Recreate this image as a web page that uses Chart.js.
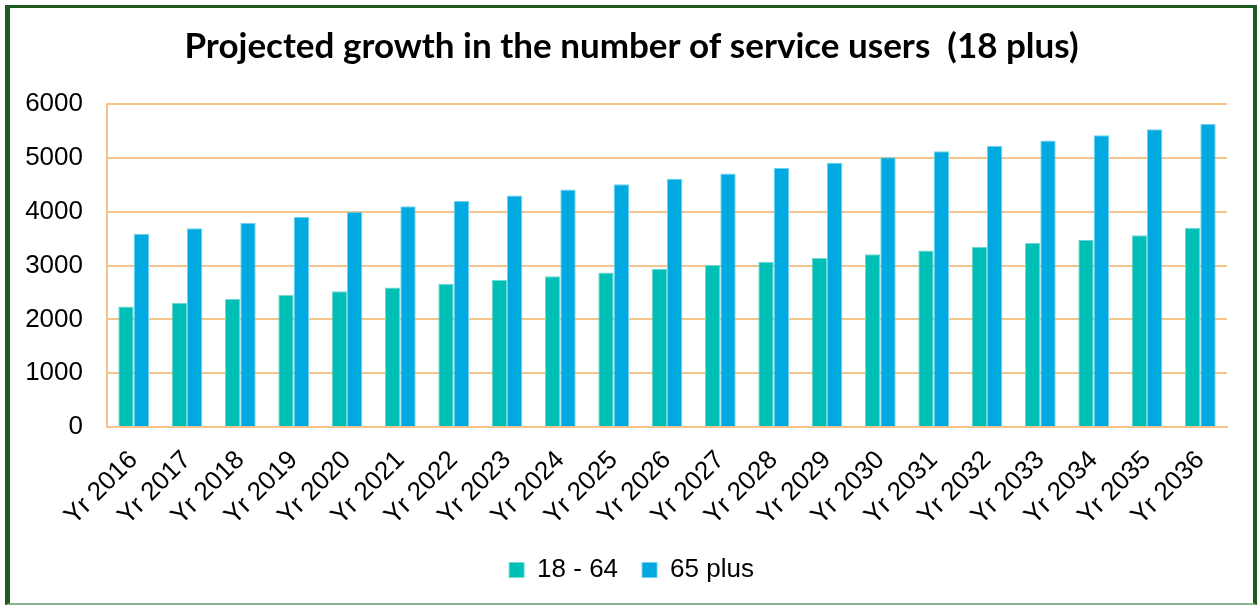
<!DOCTYPE html>
<html>
<head>
<meta charset="utf-8">
<script src="https://cdn.jsdelivr.net/npm/chart.js@4/dist/chart.umd.min.js"></script>
<style>
    html, body { margin: 0; padding: 0; background: #fff; }
    #frame {
        position: absolute;
        left: 5px;
        top: 5px;
        width: 1252px;
        height: 600px;
        box-sizing: border-box;
        border-left: 5px solid #1f5a1f;
        border-top: 3px solid #1f5a1f;
        border-right: 4px solid #1f5a1f;
        border-bottom: 2px solid #8fb38f;
    }
    #chart { display: block; }
</style>
</head>
<body>
<div id="frame"><canvas id="chart" width="1243" height="595"></canvas></div>
<script>
const years = [
    'Yr 2016', 'Yr 2017', 'Yr 2018', 'Yr 2019', 'Yr 2020', 'Yr 2021', 'Yr 2022',
    'Yr 2023', 'Yr 2024', 'Yr 2025', 'Yr 2026', 'Yr 2027', 'Yr 2028', 'Yr 2029',
    'Yr 2030', 'Yr 2031', 'Yr 2032', 'Yr 2033', 'Yr 2034', 'Yr 2035', 'Yr 2036',
];
const age18to64 = [
    2240, 2310, 2380, 2450, 2520, 2590, 2660, 2730, 2800, 2870, 2940,
    3010, 3070, 3140, 3210, 3280, 3350, 3420, 3480, 3560, 3700,
];
const age65plus = [
    3590, 3690, 3790, 3900, 4000, 4100, 4200, 4300, 4410, 4510, 4610,
    4710, 4810, 4910, 5010, 5120, 5220, 5320, 5420, 5530, 5630,
];
const yTicks = [0, 1000, 2000, 3000, 4000, 5000, 6000];

const teal = '#00bfb4';
const blue = '#00a9e0';
const orange = '#f4c48c';
const sans = "'Liberation Sans', Arial, sans-serif";

new Chart(document.getElementById('chart'), {
    type: 'bar',
    data: {
        labels: years,
        datasets: [
            {
                label: '18 - 64',
                data: age18to64,
                backgroundColor: teal,
                borderColor: '#6fd9d2',
                borderWidth: 1,
            },
            {
                label: '65 plus',
                data: age65plus,
                backgroundColor: blue,
                borderColor: '#6fd0ef',
                borderWidth: 1,
            },
        ],
    },
    options: {
        responsive: false,
        animation: false,
        barPercentage: 1,
        categoryPercentage: 0.576,
        layout: { padding: { left: 0, right: 0, top: 0, bottom: 10 } },
        plugins: {
            title: {
                display: true,
                text: 'Projected growth in the number of service users  (18 plus)',
                color: '#000',
                font: { family: 'Lato, sans-serif', size: 35, weight: 'bold' },
                padding: { top: 18, bottom: 36 },
            },
            legend: {
                position: 'bottom',
                labels: {
                    color: '#000',
                    font: { family: sans, size: 26 },
                    boxWidth: 15,
                    boxHeight: 15,
                    padding: 24,
                },
            },
            tooltip: { enabled: false },
        },
        scales: {
            x: {
                grid: { display: false },
                border: { display: true, color: orange, width: 2 },
                ticks: {
                    color: '#000',
                    font: { family: sans, size: 26 },
                    minRotation: 45,
                    maxRotation: 45,
                    padding: 10,
                },
                afterFit(scale) { scale.height = 106; },
            },
            y: {
                min: 0,
                max: 6000,
                afterBuildTicks(scale) {
                    scale.ticks = yTicks.map((v) => ({ value: v }));
                },
                grid: { color: orange, lineWidth: 2, drawTicks: false },
                border: { display: true, color: orange, width: 2 },
                ticks: {
                    color: '#000',
                    font: { family: sans, size: 26 },
                    padding: 24,
                    callback: (v) => String(v),
                },
                afterFit(scale) { scale.width = 97; },
            },
            // empty right-hand axis: keeps the plot clear of the frame while
            // title and legend stay centred on the whole canvas
            spacer: {
                type: 'linear',
                position: 'right',
                grid: { display: false },
                border: { display: false },
                ticks: { display: false },
                afterFit(scale) { scale.width = 26; },
            },
        },
    },
});
</script>
</body>
</html>
